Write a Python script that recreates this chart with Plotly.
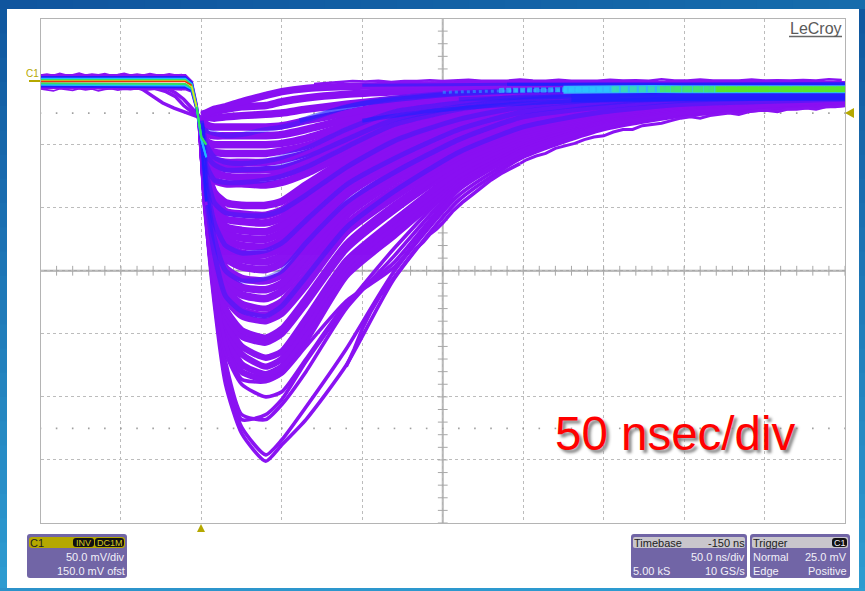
import plotly.graph_objects as go

W, H = 865, 591
PURPLE = "#8a12f2"

# ---------- data (ns, mV) ----------
pulse_t = [0, 3, 8, 15, 25, 40, 50, 65, 90, 120, 160, 200, 250, 300, 400]
pulses_outer = [
    [-39,-110,-176,-240,-279,-301,-288,-268,-225,-156,-94,-60,-38,-27,-19],
    [-39,-108,-172,-234,-274,-296,-284,-258,-212,-150,-90,-58,-37,-26,-18],
    [-39,-108,-170,-228,-268,-264,-252,-222,-178,-132,-80,-52,-32,-23,-16],
    [-39,-106,-166,-222,-264,-268,-256,-230,-180,-138,-82,-54,-33,-24,-16],
    [-38,-106,-162,-215,-240,-250,-246,-220,-176,-143,-84,-54,-34,-24,-15],
    [-38,-104,-158,-208,-236,-238,-232,-210,-174,-147,-86,-56,-35,-25,-15],
]
pulses_body = [
    [-38,-102,-156,-204,-230,-236,-230,-205,-154,-122,-80,-52,-32,-22,-14],
    [-38,-100,-152,-198,-224,-232,-226,-200,-150,-118,-77,-50,-31,-21,-14],
    [-37,-99,-150,-193,-216,-226,-220,-194,-146,-114,-74,-48,-30,-21,-14],
    [-37,-98,-148,-190,-210,-219,-214,-188,-142,-110,-71,-46,-29,-20,-13],
    [-37,-96,-144,-184,-202,-207,-200,-176,-133,-102,-67,-44,-28,-19,-13],
    [-37,-95,-142,-180,-197,-203,-196,-172,-129,-98,-64,-42,-27,-19,-13],
    [-36,-92,-136,-172,-186,-190,-184,-162,-120,-92,-60,-40,-26,-18,-12],
    [-36,-91,-134,-168,-181,-185,-179,-157,-117,-88,-58,-38,-25,-18,-12],
    [-36,-90,-132,-164,-176,-180,-174,-152,-113,-85,-56,-37,-24,-17,-12],
]
pulses_mid = [
    [-35,-88,-128,-158,-169,-172,-166,-144,-106,-79,-52,-35,-23,-16,-11],
    [-35,-86,-125,-153,-163,-165,-160,-138,-102,-75,-49,-33,-22,-15,-11],
    [-35,-84,-122,-148,-156,-158,-153,-132,-98,-72,-47,-31,-21,-15,-11],
    [-34,-81,-116,-140,-147,-149,-144,-124,-90,-66,-43,-29,-20,-14,-10],
    [-34,-79,-112,-134,-141,-143,-138,-119,-87,-64,-41,-28,-19,-13,-10],
    [-34,-78,-110,-130,-136,-137,-132,-114,-83,-61,-39,-27,-18,-13,-9],
    [-33,-76,-106,-125,-130,-131,-126,-109,-80,-58,-37,-25,-17,-12,-9],
    [-33,-75,-103,-120,-124,-125,-120,-104,-76,-55,-35,-24,-16,-12,-9],
    [-33,-74,-101,-115,-118,-119,-114,-99,-73,-52,-33,-23,-16,-11,-8],
    [-32,-72,-97,-109,-111,-112,-108,-93,-69,-49,-31,-21,-15,-11,-8],
    [-32,-70,-93,-103,-105,-106,-102,-88,-66,-46,-30,-20,-14,-10,-8],
    [-31,-68,-88,-96,-98,-98,-95,-82,-62,-43,-28,-19,-13,-10,-7],
]
pulses_top = [
    [-31,-66,-78,-81,-81,-82,-80,-73,-57,-39,-25,-18,-13,-9,-7],
    [-30,-63,-72,-75,-76,-76,-74,-68,-53,-36,-24,-17,-12,-9,-6],
    [-30,-60,-67,-69,-70,-70,-69,-63,-49,-33,-22,-16,-11,-8,-6],
    [-29,-57,-62,-64,-64,-64,-62,-57,-45,-30,-20,-15,-11,-8,-6],
    [-29,-52,-56,-57,-57,-57,-55,-51,-40,-27,-19,-14,-10,-7,-5],
    [-28,-47,-50,-50,-50,-50,-49,-45,-35,-24,-17,-12,-9,-7,-5],
    [-28,-41,-43,-43,-43,-43,-42,-38,-30,-21,-15,-11,-8,-6,-4],
    [-28,-34,-36,-36,-36,-36,-35,-31,-25,-18,-13,-9,-7,-5,-4],
    [-27,-28,-29,-28,-27,-26,-25,-22,-18,-14,-10,-8,-6,-5,-3],
    [-27,-26,-24,-22,-20,-19,-16,-13,-10,-8,-6,-5,-4,-3,-2.5],
    [-26,-25,-22,-20,-16,-11,-8,-5.5,-4,-3,-2.5,-2.5,-2.5,-2.5,-2.5],
]
streaks = [
    [-37,-39,-41,-43,-42,-38,-36,-31,-20,-13,-9,-7,-5,-5,-5],
    [-33,-50,-60,-64,-65,-63,-60,-53,-38,-24,-17,-12,-9,-8,-7],
    [-31,-66,-78,-80,-80,-78,-75,-68,-52,-34,-22,-15,-11,-9,-8],
    [-34,-80,-112,-130,-136,-134,-128,-110,-82,-61,-38,-24,-17,-13,-11],
    [-34,-85,-124,-150,-158,-156,-150,-128,-96,-72,-46,-28,-20,-15,-12],
    [-36,-92,-136,-170,-182,-186,-178,-155,-116,-87,-56,-36,-24,-18,-14],
    [-31,-58,-66,-70,-70,-69,-67,-60,-46,-30,-20,-14,-10,-8,-6],
    [-33,-72,-96,-104,-106,-106,-102,-90,-68,-47,-30,-20,-14,-11,-9],
]

pre_t = [[-38,-30,-24,-17,-10,-4,0], [-30,-22,-16,-11,-6,0], [-22,-16,-11,-7,-3,0]]
pre_v = [[-5,-12,-17,-21,-24,-27,-29], [-5,-8,-12,-19,-24,-29], [-5,-9,-14,-20,-25,-29]]

base_t = [-100, -10, -6, -3, 0, 3]
base_lines = [
    ("#8a12f2", 2.5, [5,5,0,-18,-45,-98]),
    ("#8a12f2", 2.5, [-5,-6,-8,-22,-47,-98]),
    ("#2020ff", 2.5, [3.4,3.4,-1,-19,-45,-95]),
    ("#2020ff", 2.5, [-3.7,-4.5,-7,-21,-47,-95]),
    ("#20b8ff", 2, [2.2,2.2,-2,-20,-46,-60]),
    ("#20b8ff", 2, [-2.5,-3.2,-6,-20.5,-46,-60]),
    ("#30e060", 2, [1.2,1.2,-3,-20,-44,-50]),
    ("#30e060", 2, [-1.3,-2,-5,-20,-44,-50]),
    ("#e8e020", 1.5, [0.5,0.5,-4,-20,None,None]),
    ("#f03010", 1.5, [0,0,-3,None,None,None]),
]
base_jag_t = [-100,-96,-92,-88,-84,-80,-76,-72,-68,-64,-60,-56,-52,-48,-44,-40,-36,-32,-28,-24,-20,-16,-12]
base_jag_top = [5,5.7,4.9,6.3,5.1,5.3,6.5,5,5.8,5.2,6.1,4.9,5.4,6.4,5.1,5.7,5,6.1,5.3,5,5.9,5.1,5.5]
base_jag_bot = [-5.8,-6.4,-7.4,-5.7,-6.2,-7,-5.6,-6.6,-5.9,-7.4,-6.2,-5.7,-6.8,-6,-6.4,-5.6,-7,-6.1,-5.8,-6.7,-5.7,-6.1,-6.4]

band_lines = [
    ("#2020ff", 3, 0.55, [100,150,190,250,300,400], [-3,-2.5,-2.2,-2,-2,-2], None),
    ("#2020ff", 3, 0.9, [190,250,300,400], [-2.2,-2.2,-2.2,-1.8], None),
    ("#2020ff", 5, 0.55, [61,82,103,130,162,186,248], [-31,-23,-17,-13,-9.5,-8,-6], None),
    ("#2020ff", 4, 0.6, [100,144,206,248,300,400], [-31,-23,-17,-15,-14,-13], None),
    ("#2020ff", 4, 0.45, [160,200,230,260], [-14,-12.5,-12,-11.5], None),
    ("#2020ff", 8, 0.8, [230,260,300,350,400], [-13,-12.5,-12.5,-12,-12], None),
    ("#28a0ff", 3, 0.6, [150,186,215,248], [-8.5,-7.5,-7,-6.5], "3px,3px"),
    ("#2cc8ff", 5, 0.7, [185,225,260], [-7,-6.5,-6], "5px,2px"),
    ("#2cc8ff", 8, 0.9, [225,260,300,350,400], [-6.5,-6,-6,-6,-6], None),
    ("#3ce6a0", 6, 0.7, [255,300,350,400], [-6,-6,-6,-6], "7px,2px"),
    ("#48e860", 6, 0.8, [285,330,400], [-6,-6,-6], "10px,1px"),
    ("#5ae828", 5.5, 0.95, [320,350,400], [-6,-6,-6], None),
]
top_jag_t = [70,78,86,94,102,110,118,126,134,142,150,158,166,174,182,190,198,206,214,222,230,238,246,254,262,270,278,286,294,302,310,318,326,334,342,350,358,366,374,382,390,398]
top_jag_v = [-2,-1,0,0.5,0,0.6,-0.4,0.5,0.4,1,0.5,0.7,1.4,0.6,0.8,0.7,1.6,0.8,0.7,1.4,0.7,0.9,0.6,1.5,0.8,1,0.7,1.8,0.9,0.8,1.6,0.8,0.9,0.8,1.7,0.8,1,0.8,1.3,0.8,1.9,1.2]
# lower edge of the trace cloud, right-hand side
edge_t = [90,95,100,105,111,117,123,128,133,138,142,146,150,156,162,168,174,180,186,192,198]
edge_v = [-226,-212,-196,-183,-170,-160,-150,-141,-133,-127,-121,-117,-112,-103,-96,-90,-84,-78,-73,-69,-65]
low_jag_t = [198,202,208,214,220,226,232,238,244,250,256,262,268,274,280,286,292,298,304,310,316,322,328,334,340,346,352,358,364,370,376,382,388,394,400]
low_jag_v = [-65,-62,-59,-57,-53,-51,-49,-46,-44,-43,-40,-38,-38,-35,-34,-33,-31,-29,-28,-29,-27,-26,-25,-26,-24,-23,-23,-24,-22,-22,-21,-22,-20,-20,-19]

x_ticks = [-100, -50, 0, 50, 100, 150, 200, 250, 300, 350, 400]
y_ticks = [50, 0, -50, -100, -150, -200, -250, -300, -350]
minor_x = list(range(-100, 401, 10))
minor_y = list(range(-350, 51, 10))

fig = go.Figure()
fig.add_trace(go.Scatter(x=minor_x, y=[-150]*len(minor_x), mode="markers",
                         marker=dict(symbol="line-ns", size=7, line=dict(color="#a8a8a8", width=1))))
fig.add_trace(go.Scatter(x=[150]*len(minor_y), y=minor_y, mode="markers",
                         marker=dict(symbol="line-ew", size=7, line=dict(color="#a8a8a8", width=1))))
for row in (-25, -275):
    fig.add_trace(go.Scatter(x=minor_x, y=[row]*len(minor_x), mode="markers",
                             marker=dict(symbol="square", size=1.6, color="#a0a0a0")))

for group, width in ((pulses_top, 7.5), (pulses_mid, 7.6), (pulses_body, 6.4), (pulses_outer, 3.6)):
    for v in group:
        fig.add_trace(go.Scatter(x=pulse_t, y=v, mode="lines",
                                 line=dict(color=PURPLE, width=width, shape="spline", smoothing=0.6)))
for v in streaks:
    fig.add_trace(go.Scatter(x=pulse_t, y=v, mode="lines", opacity=0.38,
                             line=dict(color="#2020ff", width=5, shape="spline", smoothing=0.6)))
for t, v in zip(pre_t, pre_v):
    fig.add_trace(go.Scatter(x=t, y=v, mode="lines", line=dict(color=PURPLE, width=3.5)))
fig.add_trace(go.Scatter(x=edge_t, y=edge_v, mode="lines", line=dict(color=PURPLE, width=3.6)))
fig.add_trace(go.Scatter(x=low_jag_t, y=low_jag_v, mode="lines", line=dict(color=PURPLE, width=3)))
fig.add_trace(go.Scatter(x=top_jag_t, y=top_jag_v, mode="lines", line=dict(color=PURPLE, width=2.5)))
for c, w, o, t, v, dash in band_lines:
    fig.add_trace(go.Scatter(x=t, y=v, mode="lines", opacity=o,
                             line=dict(color=c, width=w, shape="spline", smoothing=0.6, dash=dash)))
fig.add_trace(go.Scatter(x=base_jag_t, y=base_jag_top, mode="lines", line=dict(color=PURPLE, width=2)))
fig.add_trace(go.Scatter(x=base_jag_t, y=base_jag_bot, mode="lines", line=dict(color=PURPLE, width=1.6)))
for c, w, v in base_lines:
    fig.add_trace(go.Scatter(x=base_t, y=v, mode="lines", line=dict(color=c, width=w)))

px = lambda x: x / W
py = lambda y: 1 - y / H


def rect(x0, y0, x1, y1, color):
    return dict(type="rect", xref="paper", yref="paper", x0=px(x0), x1=px(x1), y0=py(y1), y1=py(y0),
                fillcolor=color, line=dict(width=0), layer="below")


def round_rect(x0, y0, x1, y1, r, color, line="rgba(0,0,0,0)"):
    X0, X1, Y0, Y1 = px(x0), px(x1), py(y0), py(y1)
    rx, ry = r / W, r / H
    path = (f"M {X0+rx} {Y0} L {X1-rx} {Y0} Q {X1} {Y0} {X1} {Y0-ry} L {X1} {Y1+ry} Q {X1} {Y1} {X1-rx} {Y1} "
            f"L {X0+rx} {Y1} Q {X0} {Y1} {X0} {Y1+ry} L {X0} {Y0-ry} Q {X0} {Y0} {X0+rx} {Y0} Z")
    return dict(type="path", xref="paper", yref="paper", path=path, fillcolor=color,
                line=dict(color=line, width=1), layer="above")


def mix(a, b, f):
    return "rgb(" + ",".join(str(round(a[i] + (b[i] - a[i]) * f)) for i in range(3)) + ")"


shapes = []
top, bot = (16, 88, 160), (46, 155, 208)
N = 24
for i in range(N):
    y0, y1 = 9 + (H - 9) * i / N, 9 + (H - 9) * (i + 1) / N + 1
    c = mix(top, bot, i / (N - 1))
    shapes.append(rect(0, y0, 7, y1, c))
    shapes.append(rect(859, y0, W, y1, c))
for i in range(N):
    x0, x1 = W * i / N, W * (i + 1) / N + 1
    shapes.append(rect(x0, 0, x1, 9, mix((16, 85, 158), (22, 108, 172), i / (N - 1))))
    shapes.append(rect(x0, 588, x1, H, mix((44, 146, 202), (46, 158, 210), i / (N - 1))))

# centre lines
shapes.append(dict(type="line", xref="x", yref="y", x0=-100, x1=400, y0=-150, y1=-150,
                   line=dict(color="#a8a8a8", width=2), layer="below"))
shapes.append(dict(type="line", xref="x", yref="y", x0=150, x1=150, y0=-350, y1=50,
                   line=dict(color="#b4b4b4", width=2), layer="below"))

# panels
PANEL = "#7165a6"
shapes += [round_rect(27, 534, 127, 578, 3, PANEL), round_rect(631, 534, 747, 578, 3, PANEL),
           round_rect(750, 534, 850, 578, 3, PANEL)]
shapes += [round_rect(29, 537, 125, 548, 3, "#b5a800"), round_rect(633, 537, 745, 548, 2, "#c9c6cc"),
           round_rect(752, 537, 848, 548, 2, "#c9c6cc")]
shapes += [round_rect(73, 538, 94, 547, 3, "#111111"), round_rect(95, 538, 124, 547, 3, "#111111"),
           round_rect(832, 538, 847, 547, 3, "#111111")]


def tri(points, color):
    d = "M " + " L ".join(f"{px(x)} {py(y)}" for x, y in points) + " Z"
    return dict(type="path", xref="paper", yref="paper", path=d, fillcolor=color, line=dict(width=0), layer="above")


YEL = "#b5a800"
shapes.append(tri([(197, 532), (205, 532), (201, 524)], YEL))
shapes.append(tri([(845, 113), (854, 108), (854, 118)], YEL))
shapes.append(dict(type="line", xref="paper", yref="paper", x0=px(29), x1=px(40), y0=py(81), y1=py(81),
                   line=dict(color=YEL, width=2), layer="above"))
shapes.append(dict(type="line", xref="paper", yref="paper", x0=px(789), x1=px(842), y0=py(36.5), y1=py(36.5),
                   line=dict(color="#666666", width=1.5), layer="above"))


def label(x, y, text, size=11, color="#f2f0f8", anchor="left", family="Liberation Sans", **kw):
    return dict(xref="paper", yref="paper", x=px(x), y=py(y), text=text, showarrow=False, xanchor=anchor,
                yanchor="middle", font=dict(family=family, size=size, color=color, **kw), borderpad=0, borderwidth=0)


annotations = [
    label(29.5, 542.5, "C1", 11, "#222222"),
    label(83.5, 542.5, "INV", 9, "#d6ca20", "center"),
    label(109.5, 542.5, "DC1M", 9, "#d6ca20", "center"),
    label(125, 557, "50.0 mV/div", 11, anchor="right"),
    label(125, 571, "150.0 mV ofst", 11, anchor="right"),
    label(633.5, 542.5, "Timebase", 11, "#222222"),
    label(745, 542.5, "-150 ns", 11, "#222222", "right"),
    label(745, 557, "50.0 ns/div", 11, anchor="right"),
    label(633, 571, "5.00 kS", 11),
    label(745, 571, "10 GS/s", 11, anchor="right"),
    label(752.5, 542.5, "Trigger", 11, "#222222"),
    label(839.5, 542.5, "C1", 9, "#f2f0f8", "center"),
    label(752.5, 557, "Normal", 11),
    label(847, 557, "25.0 mV", 11, anchor="right"),
    label(752.5, 571, "Edge", 11),
    label(847, 571, "Positive", 11, anchor="right"),
    label(32, 73, "C1", 10, YEL, "center"),
    label(842, 29, "LeCroy", 16, "#5a5a5a", "right", family="Liberation Sans"),
    label(675, 433, "50 nsec/div", 47.5, "#ff0000", "center", shadow="3px 3px 3px #888888"),
]

fig.update_layout(
    width=W, height=H, margin=dict(l=0, r=0, t=0, b=0), autosize=False,
    paper_bgcolor="white", plot_bgcolor="white", showlegend=False,
    shapes=shapes, annotations=annotations,
    xaxis=dict(domain=[px(40.5), px(845)], range=[-100, 400], tickvals=x_ticks, showticklabels=False,
               ticks="", zeroline=False, showgrid=True, gridcolor="#bcbcbc", griddash="dot", gridwidth=1,
               showline=True, linecolor="#b4b4b4", linewidth=1.2, mirror=True),
    yaxis=dict(domain=[py(523), py(18.5)], range=[-350, 50], tickvals=y_ticks, showticklabels=False,
               ticks="", zeroline=False, showgrid=True, gridcolor="#bcbcbc", griddash="dot", gridwidth=1,
               showline=True, linecolor="#b4b4b4", linewidth=1.2, mirror=True),
)

fig.write_html("out.html", config=dict(displayModeBar=False),
               post_script="document.body.style.margin='0';document.body.style.overflow='hidden';")
